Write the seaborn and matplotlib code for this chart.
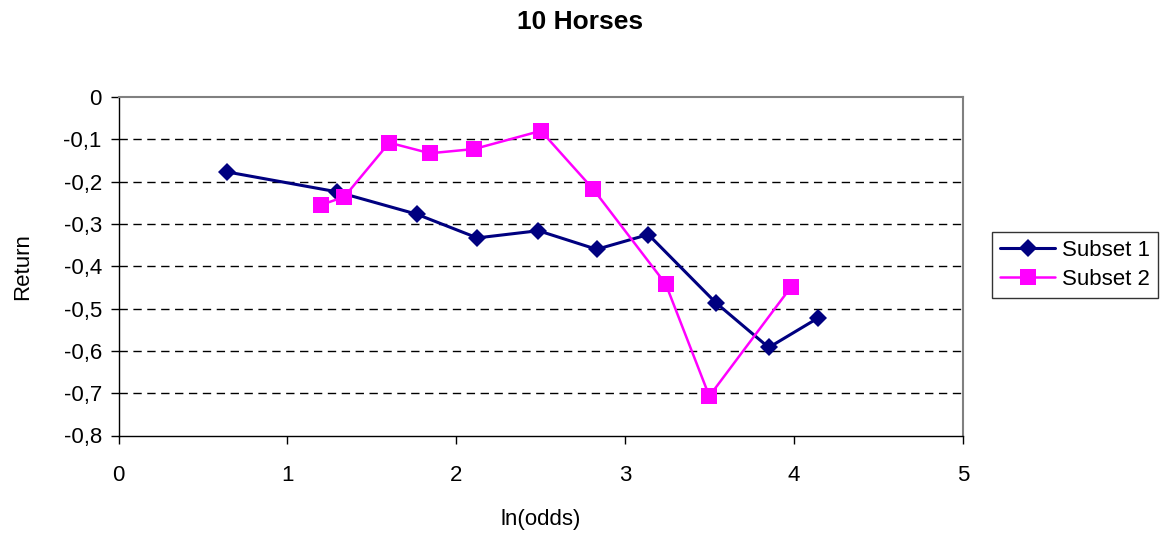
import matplotlib
matplotlib.use("Agg")
import matplotlib.pyplot as plt
import seaborn as sns
import pandas as pd
from matplotlib.ticker import FuncFormatter

sns.set_style("white")
plt.rcParams['font.family'] = ['Liberation Sans', 'DejaVu Sans']
plt.rcParams['text.color'] = 'black'
plt.rcParams['axes.labelcolor'] = 'black'
plt.rcParams['xtick.color'] = 'black'
plt.rcParams['ytick.color'] = 'black'

s1_x = [0.641, 1.292, 1.766, 2.124, 2.486, 2.831, 3.137, 3.536, 3.850, 4.143]
s1_y = [-0.177, -0.224, -0.277, -0.333, -0.316, -0.360, -0.325, -0.486, -0.592, -0.522]
s2_x = [1.199, 1.337, 1.603, 1.844, 2.105, 2.501, 2.811, 3.240, 3.498, 3.980]
s2_y = [-0.255, -0.236, -0.108, -0.133, -0.123, -0.080, -0.218, -0.442, -0.707, -0.450]
series_names = ["Subset 1", "Subset 2"]
x_ticks = [0, 1, 2, 3, 4, 5]
y_ticks = [0, -0.1, -0.2, -0.3, -0.4, -0.5, -0.6, -0.7, -0.8]

df1 = pd.DataFrame({"x": s1_x, "y": s1_y})
df2 = pd.DataFrame({"x": s2_x, "y": s2_y})

fig = plt.figure(figsize=(11.63, 5.34), dpi=100)
ax = fig.add_axes([118.5/1163, 1-435.5/534, (963-118.5)/1163, (435.5-97)/534])

sns.lineplot(data=df1, x="x", y="y", ax=ax, color="#000080", marker="D",
             markersize=9, linewidth=2.2, markeredgewidth=0, label=series_names[0],
             sort=False)
sns.lineplot(data=df2, x="x", y="y", ax=ax, color="#FF00FF", marker="s",
             markersize=12, linewidth=1.8, markeredgewidth=0, label=series_names[1],
             sort=False)

ax.set_xlim(0, 5)
ax.set_ylim(-0.8, 0)
ax.set_xticks(x_ticks)
ax.set_yticks(y_ticks)
fmt = FuncFormatter(lambda v, p: ("%g" % round(v, 1)).replace(".", ",") if abs(v) > 1e-9 else "0")
ax.yaxis.set_major_formatter(fmt)
ax.xaxis.set_major_formatter(FuncFormatter(lambda v, p: "%d" % v))

for yv in y_ticks[1:-1]:
    ax.axhline(yv, color="black", linestyle=(0, (6, 4)), linewidth=1, zorder=0.5)

for side in ["top", "right"]:
    ax.spines[side].set_color("#808080")
    ax.spines[side].set_linewidth(1.5)
for side in ["left", "bottom"]:
    ax.spines[side].set_color("black")
    ax.spines[side].set_linewidth(1)

ax.tick_params(axis="both", direction="out", length=6, width=1, color="black",
               labelcolor="black", labelsize=16, left=True, bottom=True)
ax.tick_params(axis="x", pad=15)
ax.tick_params(axis="y", pad=6)
ax.set_xlabel("ln(odds)", fontsize=16, labelpad=17, color="black")
ax.set_ylabel("Return", fontsize=16, labelpad=22, color="black")

fig.text(0.499, 1-22/534, "10 Horses", fontsize=19, fontweight="bold",
         ha="center", va="center", color="black")

ax.get_legend().remove()
handles, labels = ax.get_legend_handles_labels()
leg = fig.legend(handles, labels, loc="center left",
                 bbox_to_anchor=(992/1163, 1-265/534), fontsize=16,
                 frameon=True, fancybox=False, edgecolor="black",
                 borderaxespad=0, handlelength=2.5, borderpad=0.35,
                 labelspacing=0.35, handletextpad=0.3, labelcolor="black")
leg.get_frame().set_linewidth(1)

fig.savefig("out.png", dpi=100)
